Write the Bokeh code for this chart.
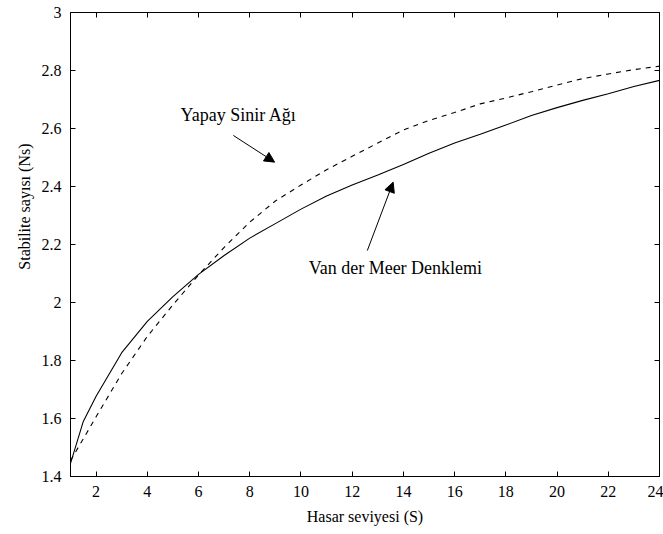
from bokeh.plotting import figure
from bokeh.models import LinearAxis, FixedTicker, Range1d, Arrow, NormalHead, Label, Title
from bokeh.embed import file_html
from bokeh.resources import INLINE

# Data
hasar = [1, 1.5, 2, 3, 4, 5, 6, 7, 8, 9, 10, 11, 12, 13, 14, 15, 16, 17, 18, 19, 20, 21, 22, 23, 24]
van_der_meer = [1.445, 1.59, 1.677, 1.827, 1.935, 2.02, 2.097, 2.162, 2.222, 2.272, 2.322, 2.367,
                2.405, 2.44, 2.476, 2.515, 2.55, 2.58, 2.612, 2.645, 2.672, 2.697, 2.72, 2.745, 2.766]
yapay_sinir = [1.455, 1.53, 1.606, 1.755, 1.883, 1.992, 2.095, 2.19, 2.277, 2.35, 2.405, 2.458,
               2.504, 2.55, 2.595, 2.628, 2.655, 2.685, 2.705, 2.727, 2.75, 2.772, 2.788, 2.803, 2.815]
x_ticks = [2, 4, 6, 8, 10, 12, 14, 16, 18, 20, 22, 24]
y_ticks = [1.4, 1.6, 1.8, 2.0, 2.2, 2.4, 2.6, 2.8, 3.0]
y_tick_labels = {1.4: "1.4", 1.6: "1.6", 1.8: "1.8", 2.0: "2", 2.2: "2.2", 2.4: "2.4",
                 2.6: "2.6", 2.8: "2.8", 3.0: "3"}
x_title = "Hasar seviyesi (S)"
y_title = "Stabilite sayısı (Ns)"

# annotation anchors (data units)
ann_ysa = dict(text="Yapay Sinir Ağı", x=5.3, y=2.645, ax0=7.36, ay0=2.576, ax1=8.97, ay1=2.484)
ann_vdm = dict(text="Van der Meer Denklemi", x=10.3, y=2.12, ax0=12.59, ay0=2.179, ax1=13.6, ay1=2.415)

FONT = "Liberation Serif"

p = figure(width=663, height=534, output_backend="svg", toolbar_location=None,
           x_range=Range1d(1, 24), y_range=Range1d(1.4, 3.0),
           min_border_left=70, min_border_right=4, min_border_top=12, min_border_bottom=58)
p.background_fill_color = "white"
p.border_fill_color = "white"
p.outline_line_color = "black"
p.outline_line_width = 1
p.xgrid.visible = False
p.ygrid.visible = False

p.line(hasar, van_der_meer, line_color="black", line_width=1.1)
p.line(hasar, yapay_sinir, line_color="black", line_width=1.1, line_dash="5 5")

def style_axis(ax, ticks, show_labels=True):
    ax.ticker = FixedTicker(ticks=ticks)
    ax.major_tick_in = 5
    ax.major_tick_out = 0
    ax.minor_tick_in = 0
    ax.minor_tick_out = 0
    ax.axis_line_color = "black"
    ax.major_tick_line_color = "black"
    ax.major_label_text_font = FONT
    ax.major_label_text_font_size = "16px"
    ax.major_label_text_color = "black"
    ax.axis_label_text_font = FONT
    ax.axis_label_text_font_style = "normal"
    ax.axis_label_text_font_size = "16px"
    ax.axis_label_text_color = "black"
    if not show_labels:
        ax.major_label_text_font_size = "0px"
        ax.major_label_text_color = None

xa = p.xaxis[0]
style_axis(xa, x_ticks)
xa.axis_label = x_title
xa.major_label_standoff = 9
xa.axis_label_standoff = 8

ya = p.yaxis[0]
style_axis(ya, y_ticks)
ya.major_label_overrides = y_tick_labels
ya.major_label_standoff = 9

top = LinearAxis()
style_axis(top, x_ticks, show_labels=False)
p.add_layout(top, "above")
right = LinearAxis()
style_axis(right, y_ticks, show_labels=False)
p.add_layout(right, "right")

p.add_layout(Title(text=y_title, text_font=FONT, text_font_size="16px",
                   text_font_style="normal", text_color="black",
                   align="right", offset=131, standoff=12), "left")

for a in (ann_ysa, ann_vdm):
    p.add_layout(Label(x=a["x"], y=a["y"], text=a["text"], text_font=FONT,
                       text_font_size="18px", text_color="black", text_baseline="middle"))
    p.add_layout(Arrow(x_start=a["ax0"], y_start=a["ay0"], x_end=a["ax1"], y_end=a["ay1"],
                       line_color="black", line_width=1,
                       end=NormalHead(size=10, fill_color="black", line_color="black")))

open("out.html", "w").write(file_html(p, INLINE))
